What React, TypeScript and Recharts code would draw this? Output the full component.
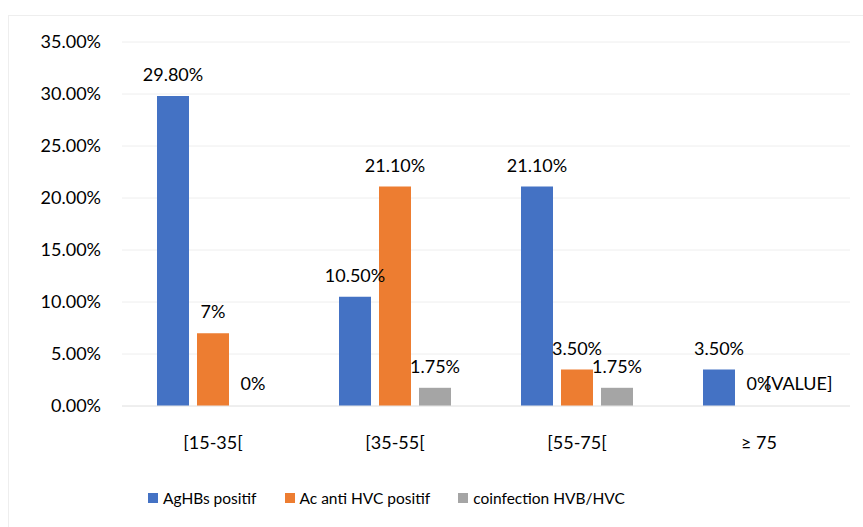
import { Bar, BarChart, CartesianGrid, LabelList, Legend, Rectangle, XAxis, YAxis } from "recharts";

const categories = ["[15-35[", "[35-55[", "[55-75[", "≥ 75"];
const agHBs = [29.8, 10.5, 21.1, 3.5];
const acAntiHVC = [7, 21.1, 3.5, 0];
const coinfection = [0, 1.75, 1.75, 0];
const agHBsLabels = ["29.80%", "10.50%", "21.10%", "3.50%"];
const acAntiHVCLabels = ["7%", "21.10%", "3.50%", "0%"];
const coinfectionLabels = ["0%", "1.75%", "1.75%", "[VALUE]"];
const yTicks = [0, 5, 10, 15, 20, 25, 30, 35];

const series = [
  { key: "agHBs", labelKey: "agHBsLabel", name: "AgHBs positif", color: "#4472C4" },
  { key: "acAntiHVC", labelKey: "acAntiHVCLabel", name: "Ac anti HVC positif", color: "#ED7D31" },
  { key: "coinfection", labelKey: "coinfectionLabel", name: "coinfection HVB/HVC", color: "#A5A5A5" },
];

const data = categories.map((name, i) => ({
  name,
  agHBs: agHBs[i],
  acAntiHVC: acAntiHVC[i],
  coinfection: coinfection[i],
  agHBsLabel: agHBsLabels[i],
  acAntiHVCLabel: acAntiHVCLabels[i],
  coinfectionLabel: coinfectionLabels[i],
}));

const font = "Lato, 'Noto Sans', sans-serif";

function LegendContent() {
  return (
    <div style={{ display: "flex", alignItems: "center", height: 30, paddingLeft: 148, fontFamily: font, fontSize: 15.5, color: "#000" }}>
      {series.map((item) => (
        <div key={item.key} style={{ display: "flex", alignItems: "center", marginRight: 28 }}>
          <span style={{ width: 10, height: 10, background: item.color, marginRight: 5, display: "inline-block" }} />
          <span>{item.name}</span>
        </div>
      ))}
    </div>
  );
}

export default function App() {
  return (
    <div style={{ position: "absolute", left: 0, top: 0, width: 863, height: 527, background: "#fff", overflow: "hidden" }}>
      <div style={{ position: "absolute", left: 8, top: 15, width: 900, height: 600, borderLeft: "1px solid #eeeeee", borderTop: "1px solid #eeeeee" }} />
      <BarChart
        width={863}
        height={527}
        data={data}
        margin={{ top: 42, right: 13, left: 0, bottom: 14 }}
        barSize={32}
        barGap={8}
        style={{ fontFamily: font }}
      >
        <CartesianGrid vertical={false} stroke="#eeeeee" />
        <XAxis
          dataKey="name"
          height={77}
          tickSize={0}
          tickMargin={30}
          axisLine={{ stroke: "#e6e6e6" }}
          tick={{ fontSize: 18, fill: "#000" }}
        />
        <YAxis
          width={122}
          domain={[0, 35]}
          ticks={yTicks}
          tickFormatter={(v: number) => `${v.toFixed(2)}%`}
          tickSize={0}
          tickMargin={21}
          axisLine={false}
          tickLine={false}
          tick={{ fontSize: 18, fill: "#000" }}
        />
        <Legend verticalAlign="bottom" content={() => <LegendContent />} />
        {series.map((item) => (
          <Bar
            key={item.key}
            dataKey={item.key}
            name={item.name}
            fill={item.color}
            minPointSize={1}
            isAnimationActive={false}
            shape={(props: any) => (props.payload && props.payload[item.key] === 0 ? <g /> : <Rectangle {...props} />)}
          >
            <LabelList dataKey={item.labelKey} position="top" offset={15} fill="#000" fontSize={18} />
          </Bar>
        ))}
      </BarChart>
    </div>
  );
}
